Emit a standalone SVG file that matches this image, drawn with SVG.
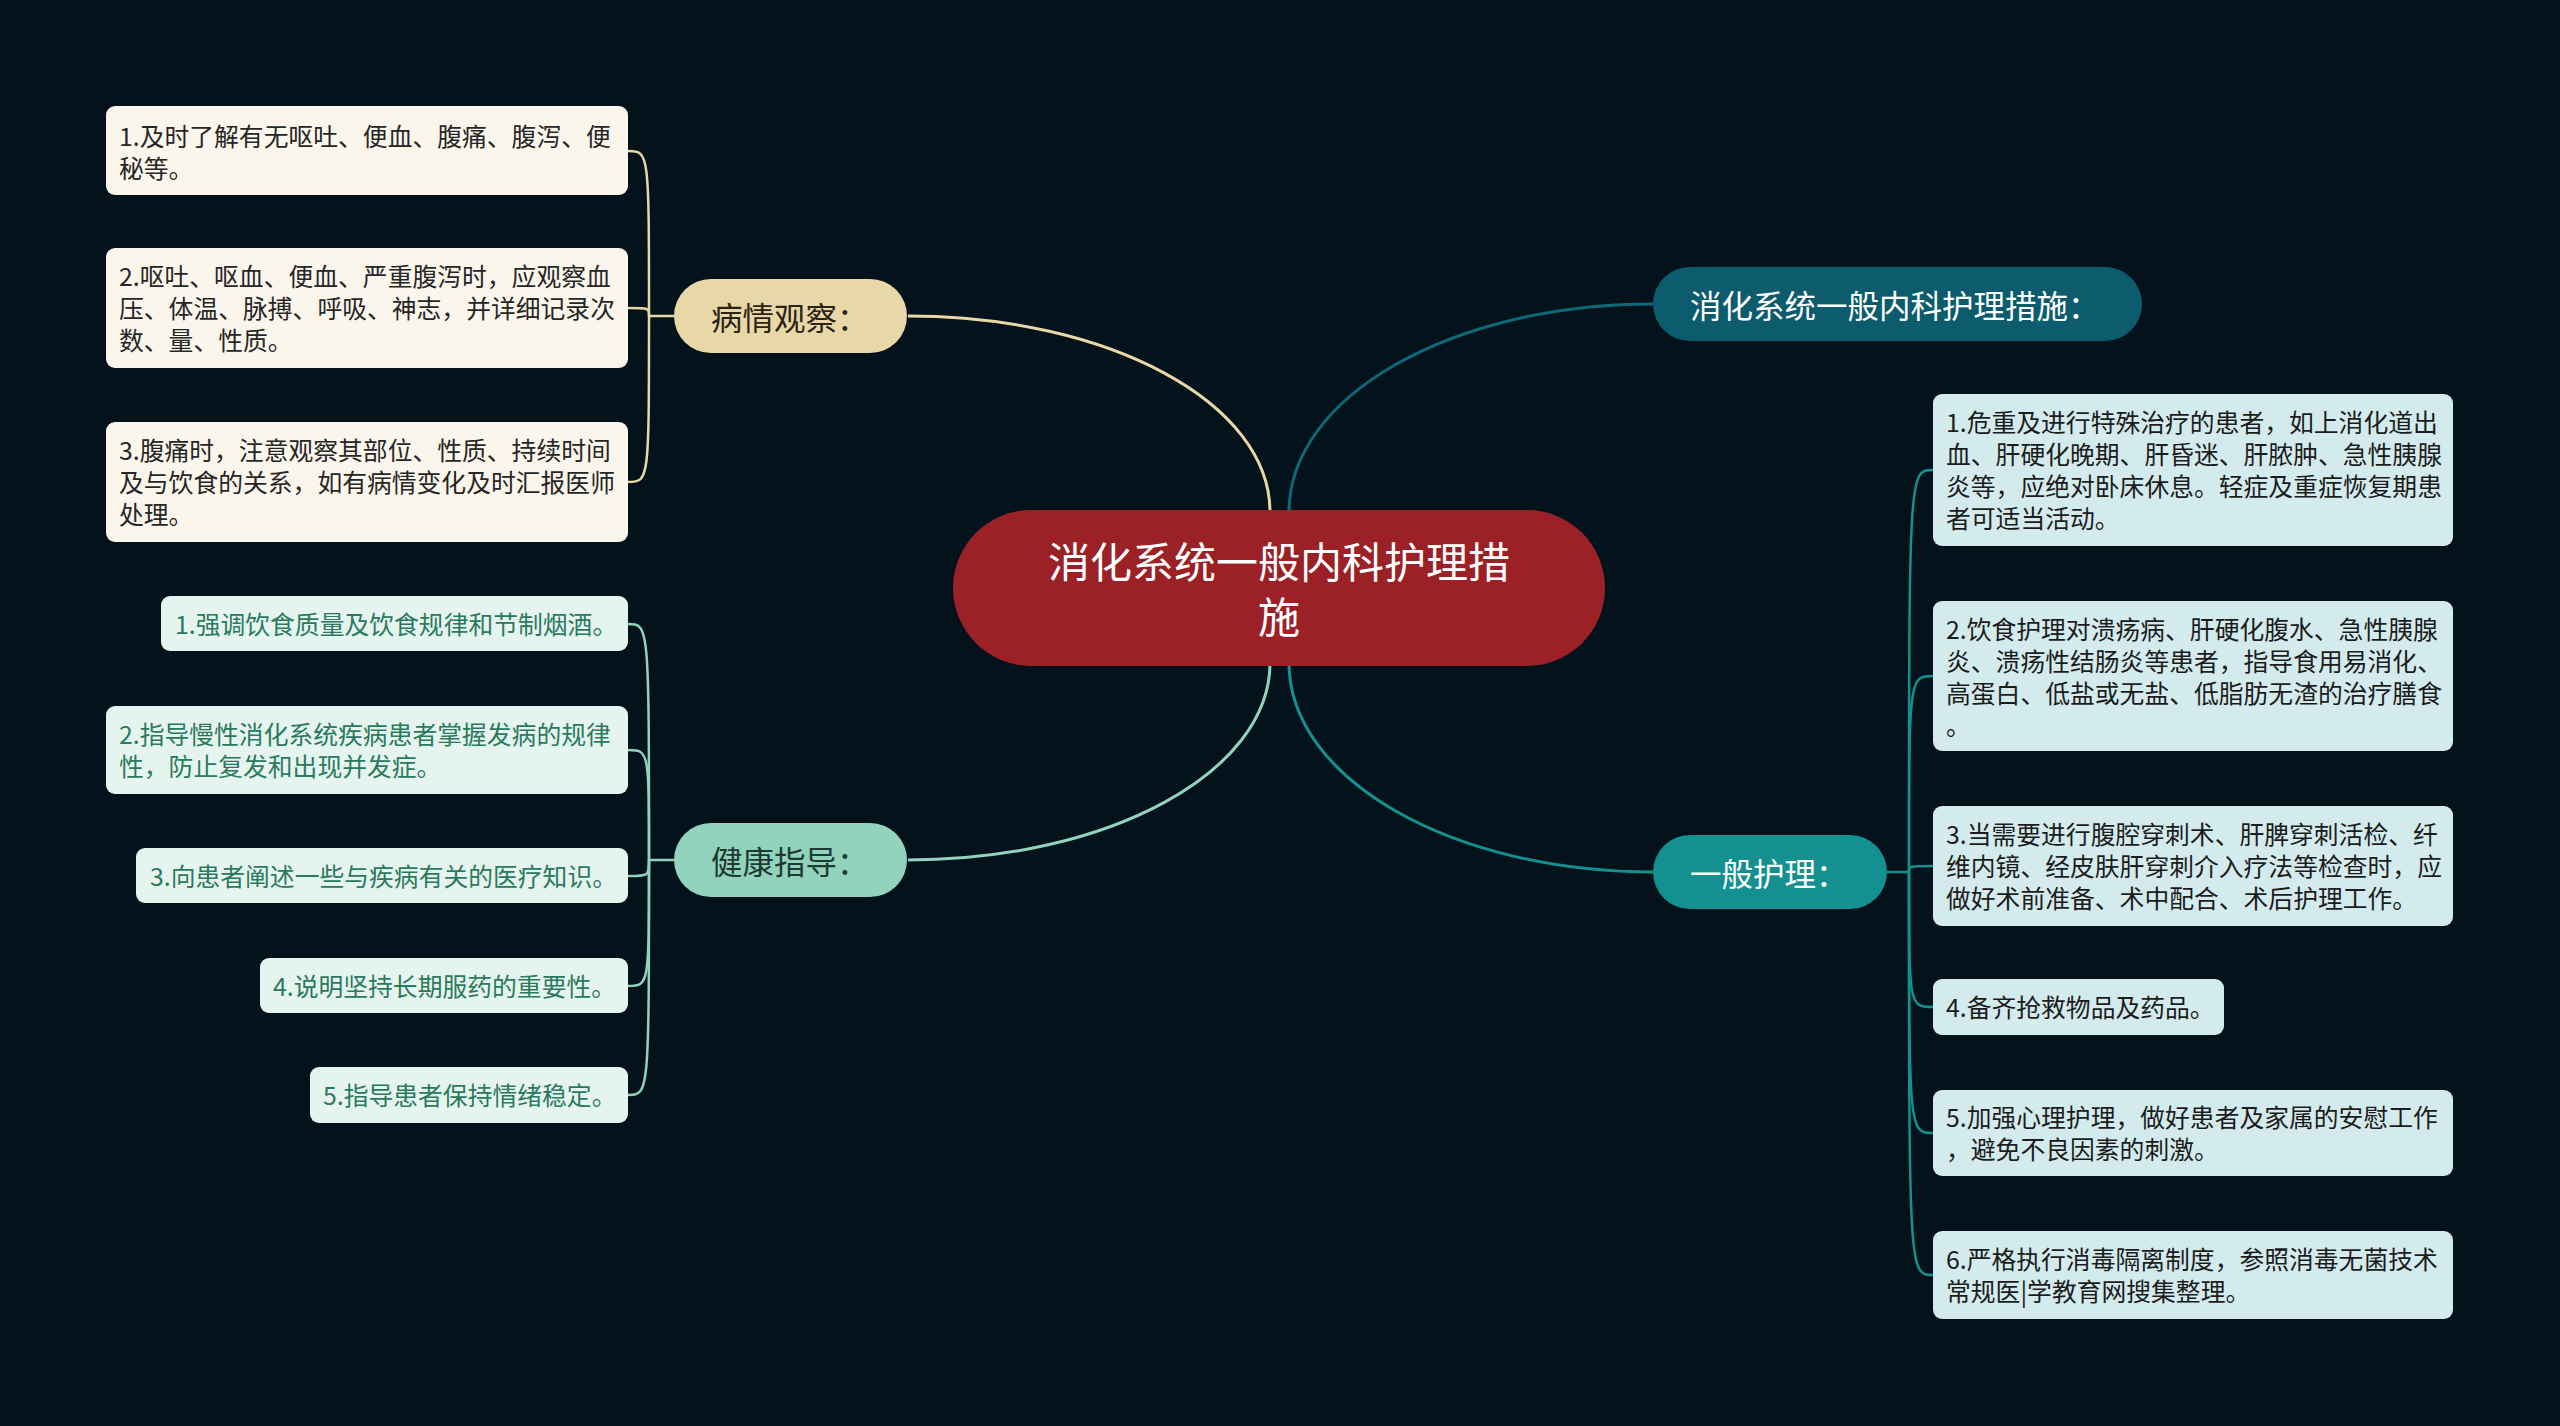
<svg xmlns="http://www.w3.org/2000/svg" width="2560" height="1426" viewBox="0 0 2560 1426">
<style>
text{font-family:"Noto Sans CJK SC","Noto Sans",sans-serif;dominant-baseline:central}
.leaf{font-size:24.8px}
.lp{fill:#fbf6ec}.lpt{fill:#262626}
.lh{fill:#e6f4ef}.lht{fill:#2a7a5e}
.lr{fill:#d3ebec}.lrt{fill:#1c1c1c}
.topic{font-size:31.5px}
.c{fill:none;stroke-width:3}
.b{fill:none;stroke-width:2.5}
</style>
<rect width="2560" height="1426" fill="#03121b"/>
<g id="connectors">
<path class="c" stroke="#e8d8a6" d="M908,316 C1109,316 1270,403 1270,512"/>
<path class="c" stroke="#92d3bd" d="M908,860 C1109,860 1270,772 1270,663"/>
<path class="c" stroke="#0e6878" d="M1289,512 C1289,396 1452,304 1653,304"/>
<path class="c" stroke="#14908f" d="M1289,663 C1289,779 1452,872 1653,872"/>
<g stroke="#e8d8a6">
<path class="b" d="M674,316 L649,316"/>
<path class="b" d="M649,316 C649,151 649,151 628,151"/>
<path class="b" d="M649,316 C649,308 649,308 628,308"/>
<path class="b" d="M649,316 C649,482 649,482 628,482"/>
</g>
<g stroke="#92d3bd">
<path class="b" d="M674,860 L649,860"/>
<path class="b" d="M649,860 C649,624 649,624 628,624"/>
<path class="b" d="M649,860 C649,750 649,750 628,750"/>
<path class="b" d="M649,860 C649,876 649,876 628,876"/>
<path class="b" d="M649,860 C649,986 649,986 628,986"/>
<path class="b" d="M649,860 C649,1095 649,1095 628,1095"/>
</g>
<g stroke="#14908f">
<path class="b" d="M1887,872 L1909,872"/>
<path class="b" d="M1909,872 C1909,470 1909,470 1933,470"/>
<path class="b" d="M1909,872 C1909,676 1909,676 1933,676"/>
<path class="b" d="M1909,872 C1909,866 1909,866 1933,866"/>
<path class="b" d="M1909,872 C1909,1007 1909,1007 1933,1007"/>
<path class="b" d="M1909,872 C1909,1133 1909,1133 1933,1133"/>
<path class="b" d="M1909,872 C1909,1275 1909,1275 1933,1275"/>
</g>
</g>
<g id="center">
<rect x="953" y="510" width="652" height="156" rx="78" fill="#9b2126"/>
<text x="1279" y="559" font-size="42" fill="#ffffff" text-anchor="middle">消化系统一般内科护理措</text>
<text x="1279" y="614" font-size="42" fill="#ffffff" text-anchor="middle">施</text>
</g>
<g id="node-bingqing">
<rect x="674" y="279" width="233" height="74" rx="37" fill="#e8d8a8"/>
<text class="topic" x="711" y="315.5" fill="#2b2416">病情观察：</text>
</g>
<g id="node-jiankang">
<rect x="674" y="823" width="233" height="74" rx="37" fill="#92d3bd"/>
<text class="topic" x="711" y="859.5" fill="#1d3b33">健康指导：</text>
</g>
<g id="node-cuoshi">
<rect x="1653" y="267" width="489" height="74" rx="37" fill="#0c5c6e"/>
<text class="topic" x="1690" y="303.5" fill="#ffffff">消化系统一般内科护理措施：</text>
</g>
<g id="node-yiban">
<rect x="1653" y="835" width="234" height="74" rx="37" fill="#13908f"/>
<text class="topic" x="1690" y="871.5" fill="#ffffff">一般护理：</text>
</g>
<g id="bq1"><rect class="lp" x="106" y="106" width="522" height="89" rx="9"/>
<text class="leaf lpt" x="119" y="135">1.及时了解有无呕吐、便血、腹痛、腹泻、便</text>
<text class="leaf lpt" x="119" y="167">秘等。</text></g>
<g id="bq2"><rect class="lp" x="106" y="248" width="522" height="120" rx="9"/>
<text class="leaf lpt" x="119" y="275">2.呕吐、呕血、便血、严重腹泻时，应观察血</text>
<text class="leaf lpt" x="119" y="307">压、体温、脉搏、呼吸、神志，并详细记录次</text>
<text class="leaf lpt" x="119" y="339">数、量、性质。</text></g>
<g id="bq3"><rect class="lp" x="106" y="422" width="522" height="120" rx="9"/>
<text class="leaf lpt" x="119" y="449">3.腹痛时，注意观察其部位、性质、持续时间</text>
<text class="leaf lpt" x="119" y="481">及与饮食的关系，如有病情变化及时汇报医师</text>
<text class="leaf lpt" x="119" y="513">处理。</text></g>
<g id="jk1"><rect class="lh" x="161" y="596" width="467" height="55" rx="9"/>
<text class="leaf lht" x="175" y="622.5">1.强调饮食质量及饮食规律和节制烟酒。</text></g>
<g id="jk2"><rect class="lh" x="106" y="706" width="522" height="88" rx="9"/>
<text class="leaf lht" x="119" y="733">2.指导慢性消化系统疾病患者掌握发病的规律</text>
<text class="leaf lht" x="119" y="765">性，防止复发和出现并发症。</text></g>
<g id="jk3"><rect class="lh" x="136" y="848" width="492" height="55" rx="9"/>
<text class="leaf lht" x="150" y="874.5">3.向患者阐述一些与疾病有关的医疗知识。</text></g>
<g id="jk4"><rect class="lh" x="260" y="958" width="368" height="55" rx="9"/>
<text class="leaf lht" x="273" y="984.5">4.说明坚持长期服药的重要性。</text></g>
<g id="jk5"><rect class="lh" x="310" y="1067" width="318" height="56" rx="9"/>
<text class="leaf lht" x="323" y="1094">5.指导患者保持情绪稳定。</text></g>
<g id="yb1"><rect class="lr" x="1933" y="394" width="520" height="152" rx="9"/>
<text class="leaf lrt" x="1946" y="421">1.危重及进行特殊治疗的患者，如上消化道出</text>
<text class="leaf lrt" x="1946" y="453">血、肝硬化晚期、肝昏迷、肝脓肿、急性胰腺</text>
<text class="leaf lrt" x="1946" y="485">炎等，应绝对卧床休息。轻症及重症恢复期患</text>
<text class="leaf lrt" x="1946" y="517">者可适当活动。</text></g>
<g id="yb2"><rect class="lr" x="1933" y="601" width="520" height="150" rx="9"/>
<text class="leaf lrt" x="1946" y="628">2.饮食护理对溃疡病、肝硬化腹水、急性胰腺</text>
<text class="leaf lrt" x="1946" y="660">炎、溃疡性结肠炎等患者，指导食用易消化、</text>
<text class="leaf lrt" x="1946" y="692">高蛋白、低盐或无盐、低脂肪无渣的治疗膳食</text>
<text class="leaf lrt" x="1946" y="724">。</text></g>
<g id="yb3"><rect class="lr" x="1933" y="806" width="520" height="120" rx="9"/>
<text class="leaf lrt" x="1946" y="833">3.当需要进行腹腔穿刺术、肝脾穿刺活检、纤</text>
<text class="leaf lrt" x="1946" y="865">维内镜、经皮肤肝穿刺介入疗法等检查时，应</text>
<text class="leaf lrt" x="1946" y="897">做好术前准备、术中配合、术后护理工作。</text></g>
<g id="yb4"><rect class="lr" x="1933" y="979" width="291" height="56" rx="9"/>
<text class="leaf lrt" x="1946" y="1006">4.备齐抢救物品及药品。</text></g>
<g id="yb5"><rect class="lr" x="1933" y="1090" width="520" height="86" rx="9"/>
<text class="leaf lrt" x="1946" y="1116">5.加强心理护理，做好患者及家属的安慰工作</text>
<text class="leaf lrt" x="1946" y="1148">，避免不良因素的刺激。</text></g>
<g id="yb6"><rect class="lr" x="1933" y="1231" width="520" height="88" rx="9"/>
<text class="leaf lrt" x="1946" y="1258">6.严格执行消毒隔离制度，参照消毒无菌技术</text>
<text class="leaf lrt" x="1946" y="1290">常规医|学教育网搜集整理。</text></g>
</svg>
